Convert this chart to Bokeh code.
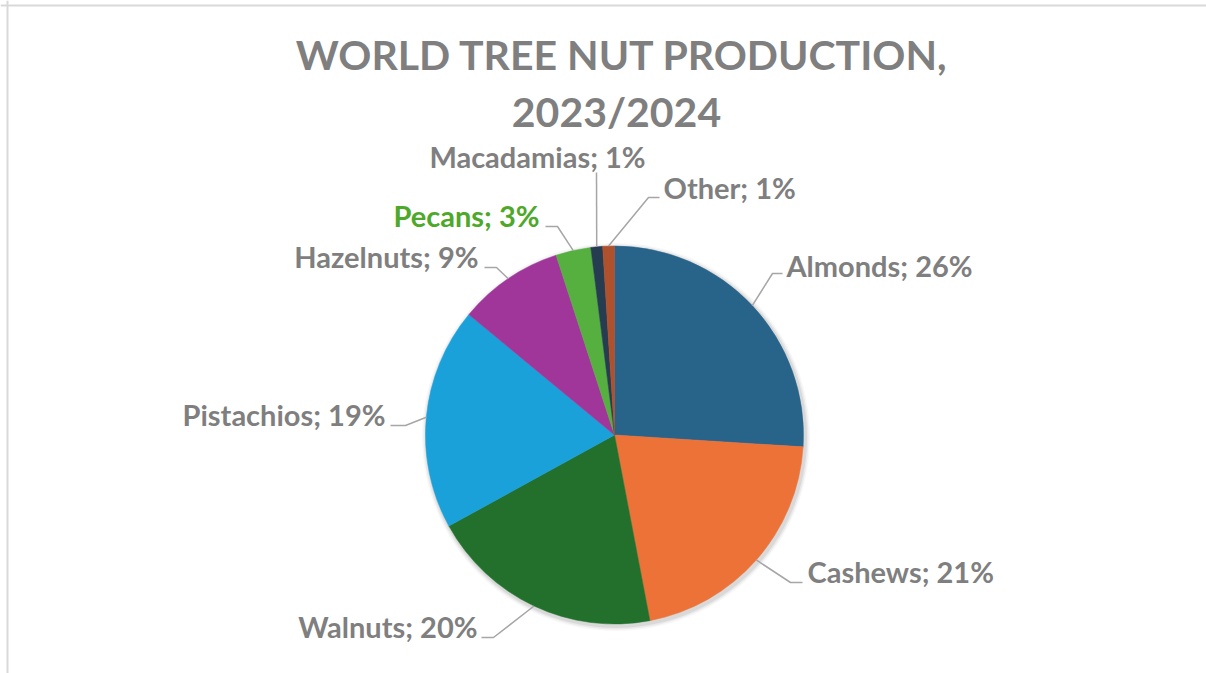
import math
from bokeh.plotting import figure
from bokeh.models import Range1d, Span, ColumnDataSource
from bokeh.core.properties import value
from bokeh.embed import file_html
from bokeh.resources import INLINE

# ---- data ----
names = ["Almonds", "Cashews", "Walnuts", "Pistachios", "Hazelnuts", "Pecans", "Macadamias", "Other"]
shares = [26, 21, 20, 19, 9, 3, 1, 1]
slice_colors = ["#28638a", "#ec7238", "#22702c", "#1aa1da", "#a1369a", "#55b040", "#263c51", "#b0512e"]
label_colors = ["#7f7f7f", "#7f7f7f", "#7f7f7f", "#7f7f7f", "#7f7f7f", "#4ea829", "#7f7f7f", "#7f7f7f"]
title_lines = ["WORLD TREE NUT PRODUCTION,", "2023/2024"]

# ---- layout (window pixel coordinates; data y = -window y) ----
W, H = 1206, 673
CX, CY, R = 614, -434.5, 189
LABEL_SHIFT, TITLE_SHIFT = 11, 14
# label anchor: (x, baseline y, align), leader elbow and leader end
label_pos = {
    "Almonds":    (786, 276, "left"),
    "Cashews":    (807, 582, "left"),
    "Walnuts":    (477, 637, "right"),
    "Pistachios": (385, 425, "right"),
    "Hazelnuts":  (478, 267, "right"),
    "Pecans":     (539, 226, "right"),
    "Macadamias": (537, 167, "center"),
    "Other":      (663, 198, "left"),
}
leader_pts = {
    "Almonds":    [(772, 273), (782, 273)],
    "Cashews":    [(790, 582), (802, 582)],
    "Walnuts":    [(493, 637), (481, 637)],
    "Pistachios": [(405, 425), (390, 425)],
    "Hazelnuts":  [(496, 267), (484, 267)],
    "Pecans":     [(557, 226), (545, 226)],
    "Macadamias": [(596, 172), (596, 172)],
    "Other":      [(648, 197), (659, 197)],
}

p = figure(width=W, height=H, x_range=Range1d(0, W), y_range=Range1d(-H, 0),
           output_backend="svg", toolbar_location=None, x_axis_type=None, y_axis_type=None,
           min_border=0)
p.outline_line_color = None
p.background_fill_color = "white"
p.border_fill_color = "white"

# chart frame (top and left edges visible)
p.add_layout(Span(location=7, dimension="height", line_color="#d9d9d9", line_width=2))
p.add_layout(Span(location=-5, dimension="width", line_color="#d9d9d9", line_width=2))

# soft shadow
for dr, a in [(5, 0.03), (3.5, 0.05), (2, 0.07)]:
    p.circle(x=[CX + 1.5], y=[CY - 2], radius=R + dr, fill_color="black", fill_alpha=a, line_color=None)

# wedges
total = float(sum(shares))
starts, ends, mids = [], [], []
cum = 0.0
for v in shares:
    s = math.pi / 2 - 2 * math.pi * cum / total
    e = math.pi / 2 - 2 * math.pi * (cum + v) / total
    starts.append(s)
    ends.append(e)
    mids.append((s + e) / 2)
    cum += v

src = ColumnDataSource(dict(name=names, share=shares, start=starts, end=ends, color=slice_colors))
p.wedge(x=CX, y=CY, radius=R, start_angle="start", end_angle="end", direction="clock",
        fill_color="color", line_color="color", line_width=0.5, source=src)

# leader lines
xs, ys = [], []
for n, m in zip(names, mids):
    ex, ey = CX + R * math.cos(m), CY + R * math.sin(m)
    pts = leader_pts[n]
    xs.append([ex] + [pt[0] for pt in pts])
    ys.append([ey] + [-pt[1] for pt in pts])
p.multi_line(xs=xs, ys=ys, line_color="#a6a6a6", line_width=1.5)

# labels
for align in ["left", "right", "center"]:
    lx, ly, lt, lc = [], [], [], []
    for n, v, c in zip(names, shares, label_colors):
        x, y, a = label_pos[n]
        if a == align:
            lx.append(x)
            ly.append(-(y - LABEL_SHIFT))
            lt.append(f"{n}; {v}%")
            lc.append(c)
    if lx:
        p.text(x=lx, y=ly, text=lt, text_color=lc, text_font=value("Lato"), text_font_style="bold",
               text_font_size="29px", text_align=align, text_baseline="alphabetic")

# title
p.text(x=[622, 616], y=[-(68 - TITLE_SHIFT), -(125 - TITLE_SHIFT)], text=title_lines,
       text_color="#7f7f7f", text_font=value("Lato"), text_font_style="bold",
       text_font_size="41px", text_align="center", text_baseline="alphabetic")

open("out.html", "w").write(file_html(p, INLINE))
